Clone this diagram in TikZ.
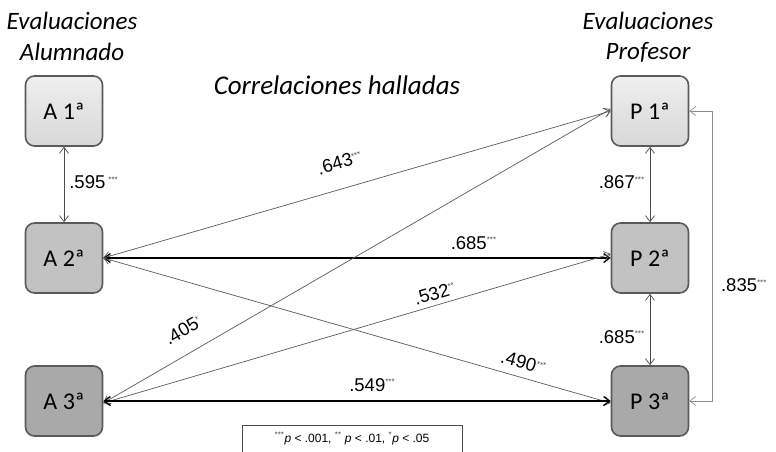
\documentclass[tikz,border=0pt]{standalone}
\usepackage{fontspec}
\setmainfont{Liberation Sans}
\newfontfamily\calfont{Carlito}
\usetikzlibrary{arrows.meta}
\definecolor{fillB}{HTML}{C2C2C2}
\definecolor{fillC}{HTML}{A9A9A9}
\definecolor{edgeC}{HTML}{5A5A5A}
\newcommand\stars[1]{\textsuperscript{\fontsize{8}{8}\selectfont\color{black!70}#1}}
\tikzset{
  box/.style={draw=edgeC, line width=1.6pt, rounded corners=9pt, minimum width=77pt, minimum height=70pt, inner sep=0pt, font=\calfont\fontsize{24}{24}\selectfont},
  boxA/.style={box, top color=gray!12, bottom color=gray!30, middle color=gray!22},
  boxB/.style={box, fill=fillB},
  boxC/.style={box, fill=fillC},
  conn/.style={{Straight Barb[length=6pt,width=9pt]}-{Straight Barb[length=6pt,width=9pt]}, line width=0.7pt, draw=black!70},
  hconn/.style={conn, line width=1.3pt, draw=black},
  dconn/.style={conn, line width=0.7pt, draw=black!65},
  lbl/.style={font=\fontsize{18.5}{18.5}\selectfont, inner sep=1pt},
  head/.style={font=\calfont\itshape\fontsize{25}{25}\selectfont},
}
\begin{document}
\begin{tikzpicture}[x=1pt,y=-1pt]
\useasboundingbox (0,0) rectangle (776,452);
% headers
\node[head] (hA1) at (72,21) {Evaluaciones};
\node[head] (hA2) at (72,52) {Alumnado};
\node[head] (hP1) at (648,21) {Evaluaciones};
\node[head] (hP2) at (648,52) {Profesor};
\node[font=\calfont\itshape\fontsize{27}{27}\selectfont] (title) at (337,85) {Correlaciones halladas};
% boxes
\node[boxA] (A1) at (64,111) {A 1ª};
\node[boxB] (A2) at (64,258) {A 2ª};
\node[boxC] (A3) at (64,401) {A 3ª};
\node[boxA] (P1) at (650,111) {P 1ª};
\node[boxB] (P2) at (650,258) {P 2ª};
\node[boxC] (P3) at (650,401) {P 3ª};
% vertical connectors
\draw[conn] (A1.south) -- node[lbl, right=4pt, pos=0.47] {.595\,\stars{***}} (A2.north);
\draw[conn] (P1.south) -- node[lbl, left=4pt, pos=0.47] {.867\stars{***}} (P2.north);
\draw[conn] (P2.south) -- node[lbl, left=4pt, pos=0.6] {.685\stars{***}} (P3.north);
\draw[conn, draw=black!45] (P1.east) -- ++(23,0) coordinate (loopT) |- (P3.east);
\node[lbl] (l835) at (744,285) {.835\stars{***}};
% diagonal and horizontal connectors
\draw[dconn] (A2.east) -- node[lbl, sloped, above=18pt, pos=0.48] {.643\stars{***}} (P1.west);
\draw[hconn] (A2.east) -- node[lbl, above=7pt, pos=0.73] {.685\stars{***}} (P2.west);
\draw[dconn] (A2.east) -- node[lbl, sloped, above=7pt, pos=0.82] {.490\stars{***}} ([yshift=-2pt]P3.west);
\draw[dconn] ([yshift=-2pt]A3.east) -- node[lbl, sloped, above=15pt, pos=0.18] {.405\stars{*}} ([yshift=2pt]P1.west);
\draw[dconn] ([yshift=-2pt]A3.east) -- node[lbl, sloped, above=4pt, pos=0.66] {.532\stars{**}} ([yshift=4pt]P2.west);
\draw[hconn] (A3.east) -- node[lbl, above=8pt, pos=0.53] {.549\stars{***}} (P3.west);
% legend
\node[draw=black!70, line width=0.8pt, minimum width=220pt, minimum height=27pt, inner sep=2pt, font=\fontsize{12}{12}\selectfont] (legend) at (352,438.5)
  {\stars{***}\textit{p} < .001, \stars{**} \textit{p} < .01, \stars{*}\textit{p} < .05};
\end{tikzpicture}
\end{document}
